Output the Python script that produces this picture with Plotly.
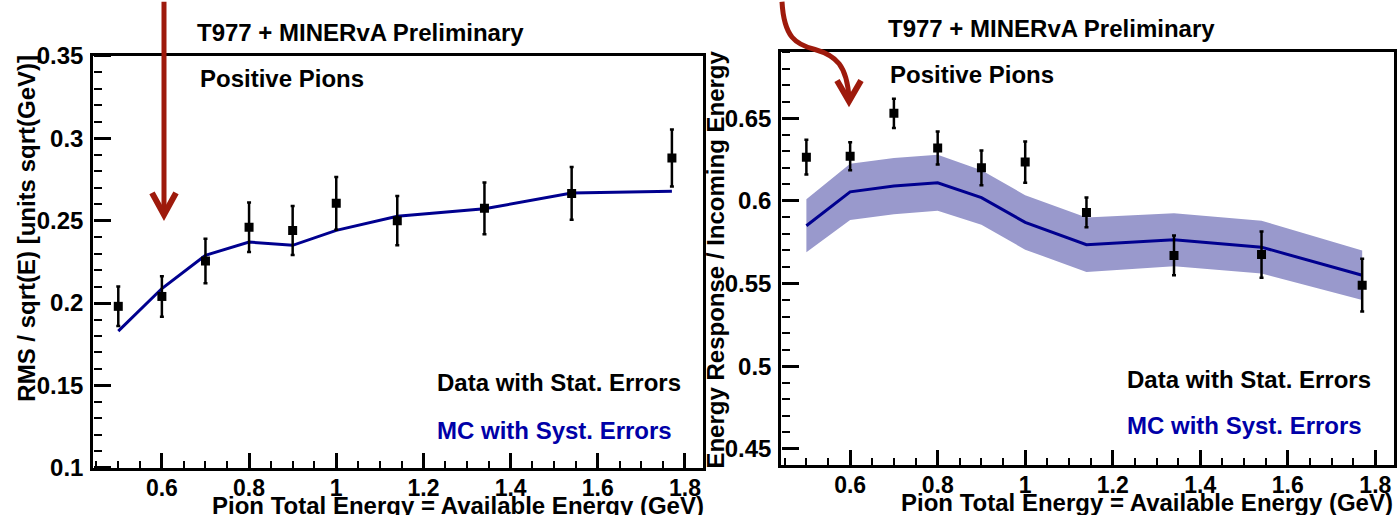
import plotly.graph_objects as go

W, H = 1397, 515

# ---------------- data ----------------
energy = [0.5, 0.6, 0.7, 0.8, 0.9, 1.0, 1.14, 1.34, 1.54, 1.77]

# Left panel: resolution
res_data = [0.198, 0.204, 0.2255, 0.246, 0.244, 0.2605, 0.250, 0.2575, 0.2665, 0.288]
res_stat = [0.012, 0.0123, 0.0135, 0.015, 0.0148, 0.016, 0.015, 0.0157, 0.016, 0.0173]
res_mc = [0.183, 0.2088, 0.229, 0.237, 0.235, 0.2441, 0.2527, 0.2572, 0.2667, 0.2679]

# Right panel: response
resp_data = [0.6265, 0.627, 0.653, 0.632, 0.620, 0.6235, 0.593, 0.567, 0.5675, 0.549]
resp_stat = [0.0105, 0.0085, 0.0088, 0.010, 0.0105, 0.0125, 0.009, 0.012, 0.014, 0.016]
resp_mc = [0.585, 0.6055, 0.609, 0.611, 0.602, 0.587, 0.5735, 0.5765, 0.572, 0.555]
resp_mc_syst = [0.016, 0.017, 0.017, 0.017, 0.0165, 0.0165, 0.0165, 0.016, 0.016, 0.015]

x_ticks = [0.6, 0.8, 1.0, 1.2, 1.4, 1.6, 1.8]
x_ticktext = ["0.6", "0.8", "1", "1.2", "1.4", "1.6", "1.8"]
left_yticks = [0.1, 0.15, 0.2, 0.25, 0.3, 0.35]
left_yticktext = ["0.1", "0.15", "0.2", "0.25", "0.3", "0.35"]
right_yticks = [0.45, 0.5, 0.55, 0.6, 0.65]
right_yticktext = ["0.45", "0.5", "0.55", "0.6", "0.65"]

x_title = "Pion Total Energy = Available Energy (GeV)"
left_ytitle = "RMS / sqrt(E) [units sqrt(GeV)]"
right_ytitle = "Energy Response / Incoming Energy"
header = "T977 + MINERvA Preliminary"
sub_header = "Positive Pions"
data_label = "Data with Stat. Errors"
mc_label = "MC with Syst. Errors"

# ---------------- style ----------------
FONT = "Liberation Sans, Arial, Helvetica, sans-serif"
MC_LINE = "#00008F"
BAND = "#9999CC"
ARROW = "#9E1A0C"
X_RANGE = [0.442, 1.842]
LEFT_YRANGE = [0.1, 0.35]
RIGHT_YRANGE = [0.4404, 0.69]

# vertical calibration of the photographed page (observed offset / scale)
V_OFF, V_K = 12.3, 0.952


def px(x):
    return x / W


def py(y):
    """target picture row -> paper fraction"""
    return 1 - ((y - V_OFF) / V_K) / H


fig = go.Figure()

# Left panel
fig.add_trace(go.Scatter(x=energy, y=res_mc, mode="lines",
                         line=dict(color=MC_LINE, width=3),
                         xaxis="x", yaxis="y", showlegend=False))
fig.add_trace(go.Scatter(x=energy, y=res_data, mode="markers",
                         marker=dict(symbol="square", size=9, color="black"),
                         error_y=dict(type="data", array=res_stat, color="black",
                                      thickness=2.5, width=2),
                         xaxis="x", yaxis="y", showlegend=False))

# Right panel
upper = [m + s for m, s in zip(resp_mc, resp_mc_syst)]
lower = [m - s for m, s in zip(resp_mc, resp_mc_syst)]
fig.add_trace(go.Scatter(x=energy, y=upper, mode="lines", line=dict(width=0, color=BAND),
                         xaxis="x2", yaxis="y2", showlegend=False, hoverinfo="skip"))
fig.add_trace(go.Scatter(x=energy, y=lower, mode="lines", line=dict(width=0, color=BAND),
                         fill="tonexty", fillcolor=BAND,
                         xaxis="x2", yaxis="y2", showlegend=False, hoverinfo="skip"))
fig.add_trace(go.Scatter(x=energy, y=resp_mc, mode="lines",
                         line=dict(color=MC_LINE, width=3),
                         xaxis="x2", yaxis="y2", showlegend=False))
fig.add_trace(go.Scatter(x=energy, y=resp_data, mode="markers",
                         marker=dict(symbol="square", size=9, color="black"),
                         error_y=dict(type="data", array=resp_stat, color="black",
                                      thickness=2.5, width=2),
                         xaxis="x2", yaxis="y2", showlegend=False))

# invisible carriers for the overlay (tick-only) axes
fig.add_trace(go.Scatter(x=energy, y=res_mc, mode="lines", line=dict(width=0),
                         opacity=0, hoverinfo="skip", xaxis="x3", yaxis="y3",
                         showlegend=False))
fig.add_trace(go.Scatter(x=energy, y=resp_mc, mode="lines", line=dict(width=0),
                         opacity=0, hoverinfo="skip", xaxis="x4", yaxis="y4",
                         showlegend=False))

xtickfont = dict(family=FONT, size=23, color="black", weight="bold")
ytickfont = dict(family=FONT, size=24, color="black", weight="bold")


def frame_x(domain, anchor):
    return dict(domain=domain, anchor=anchor, range=X_RANGE,
                tickmode="array", tickvals=x_ticks, ticktext=x_ticktext,
                ticks="", ticklabelstandoff=-2,
                showline=True, linewidth=2.5, linecolor="black", mirror=True,
                showgrid=False, zeroline=False, tickfont=xtickfont)


def frame_y(domain, anchor, rng, vals, text):
    return dict(domain=domain, anchor=anchor, range=rng,
                tickmode="array", tickvals=vals, ticktext=text,
                ticks="", ticklabelstandoff=2,
                showline=True, linewidth=2.5, linecolor="black", mirror=True,
                showgrid=False, zeroline=False, tickfont=ytickfont)


def tick_x(over, ypos):
    # axis on "top" side placed at the bottom edge: outside ticks point into the plot
    return dict(overlaying=over, side="top", anchor="free", position=ypos, range=X_RANGE,
                tickmode="array", tickvals=x_ticks, showticklabels=False,
                ticks="outside", ticklen=15, tickwidth=2.5, tickcolor="black",
                minor=dict(tickmode="linear", tick0=0, dtick=0.05, ticks="outside",
                           ticklen=7, tickwidth=2, tickcolor="black", showgrid=False),
                showline=False, showgrid=False, zeroline=False)


def tick_y(over, xpos, rng, vals):
    # axis on "right" side placed at the left edge: outside ticks point into the plot
    return dict(overlaying=over, side="right", anchor="free", position=xpos, range=rng,
                tickmode="array", tickvals=vals, showticklabels=False,
                ticks="outside", ticklen=17, tickwidth=2.5, tickcolor="black",
                minor=dict(tickmode="linear", tick0=0, dtick=0.01, ticks="outside",
                           ticklen=8, tickwidth=2, tickcolor="black", showgrid=False),
                showline=False, showgrid=False, zeroline=False)


# frames in target picture pixels: left, right, top, bottom
L = (93, 703.3, 54.3, 468.3)
R = (781, 1393.7, 50.7, 465.0)

annotations = []


def ann(text, x, y, xanchor="left", yanchor="middle", color="black", size=24, angle=0):
    annotations.append(dict(text=text, x=px(x), y=py(y), xref="paper", yref="paper",
                            xanchor=xanchor, yanchor=yanchor, showarrow=False,
                            textangle=angle,
                            font=dict(family=FONT, size=size, color=color, weight="bold")))


# Left panel texts
ann(header, 195, 31)
ann(sub_header, 198, 77)
ann(data_label, 435, 383)
ann(mc_label, 435, 431, color="#0000A8")
ann(x_title, 706, 506, xanchor="right")
ann(left_ytitle, 27, 228, xanchor="center", angle=-90)

# Right panel texts
ann(header, 886, 27)
ann(sub_header, 888, 73)
ann(data_label, 1125, 380)
ann(mc_label, 1125, 426, color="#0000A8")
ann(x_title, 1395, 503, xanchor="right")
ann(right_ytitle, 716, 259, xanchor="center", angle=-90)


def pt(x, y):
    return f"{px(x):.5f},{py(y):.5f}"


def pth(points):
    s = ""
    for i, (x, y) in enumerate(points):
        s += ("M " if i == 0 else "L ") + pt(x, y) + " "
    return s


shapes = [
    dict(type="path", xref="paper", yref="paper",
         path=pth([(164, 0), (164, 210)]), line=dict(color=ARROW, width=5)),
    dict(type="path", xref="paper", yref="paper",
         path=pth([(152, 192), (164, 214), (176, 192)]), line=dict(color=ARROW, width=6)),
    dict(type="path", xref="paper", yref="paper",
         path=(f"M {pt(782, 0)} C {pt(784, 36)} {pt(796, 43)} {pt(815, 48)} "
               f"C {pt(836, 54)} {pt(847, 64)} {pt(849, 97)}"),
         line=dict(color=ARROW, width=5)),
    dict(type="path", xref="paper", yref="paper",
         path=pth([(837, 79), (849, 100), (861, 79)]), line=dict(color=ARROW, width=6)),
]

fig.update_layout(
    width=W, height=H, autosize=False,
    margin=dict(l=0, r=0, t=0, b=0, pad=0),
    paper_bgcolor="white", plot_bgcolor="white",
    xaxis=frame_x([px(L[0]), px(L[1])], "y"),
    yaxis=frame_y([py(L[3]), py(L[2])], "x", LEFT_YRANGE, left_yticks, left_yticktext),
    xaxis2=frame_x([px(R[0]), px(R[1])], "y2"),
    yaxis2=frame_y([py(R[3]), py(R[2])], "x2", RIGHT_YRANGE, right_yticks, right_yticktext),
    xaxis3=tick_x("x", py(L[3])),
    yaxis3=tick_y("y", px(L[0]), LEFT_YRANGE, left_yticks),
    xaxis4=tick_x("x2", py(R[3])),
    yaxis4=tick_y("y2", px(R[0]), RIGHT_YRANGE, right_yticks),
    annotations=annotations,
    shapes=shapes,
    showlegend=False,
)

fig.write_html("out.html", config={"responsive": False})
